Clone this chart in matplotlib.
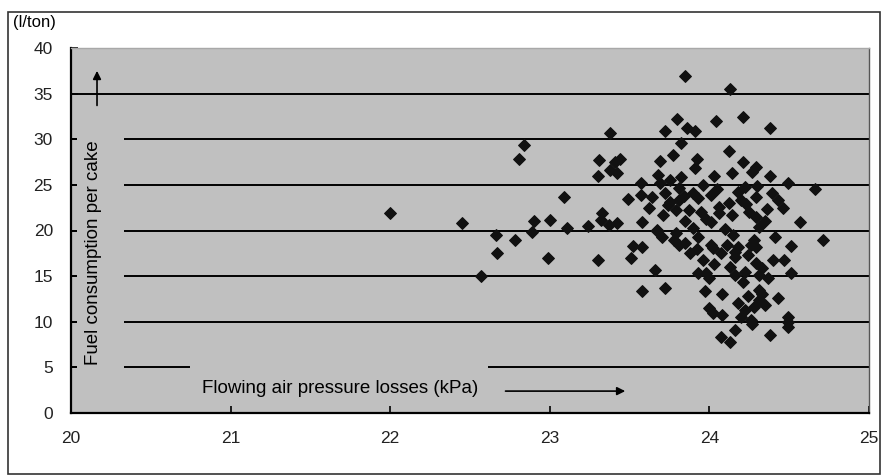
import matplotlib
matplotlib.use("Agg")
import matplotlib.pyplot as plt
from matplotlib.patches import Rectangle

# ---- data ----
pressure_kpa = [
    22.00, 22.45, 22.57, 22.66, 22.67, 22.78, 22.84, 22.81, 23.09, 22.90,
    22.89, 23.00, 23.11, 23.24, 23.38, 23.31, 23.41, 23.44, 23.38, 23.42,
    23.30, 23.49, 23.57, 23.57, 23.33, 23.32, 23.37, 23.42, 23.58, 22.99,
    23.30, 23.51, 23.52, 23.58, 23.58, 23.85, 24.13, 23.80, 24.04, 24.21,
    24.38, 23.72, 23.86, 23.91, 23.82, 23.77, 24.12, 23.69, 23.92, 23.91,
    24.21, 24.29, 24.27, 24.14, 23.68, 23.82, 24.03, 24.38, 24.49, 24.66,
    23.69, 23.81, 23.96, 24.22, 24.30, 23.64, 23.72, 23.75, 23.81, 23.90,
    23.93, 24.01, 24.06, 24.18, 24.20, 24.29, 24.39, 24.43, 24.46, 23.71,
    23.79, 23.87, 24.57, 24.71, 24.51, 24.41, 24.15, 24.01, 24.06, 24.14,
    24.29, 24.31, 23.67, 23.70, 23.79, 23.90, 23.93, 23.81, 24.01, 24.11,
    24.16, 24.28, 24.29, 23.66, 23.72, 23.67, 23.78, 23.85, 23.96, 23.93,
    23.98, 24.00, 24.02, 24.07, 24.16, 24.18, 24.16, 24.21, 24.22, 24.26,
    24.29, 24.33, 24.37, 24.40, 24.47, 24.51, 23.97, 24.08, 24.00, 24.02,
    24.08, 24.18, 24.22, 24.26, 24.28, 24.31, 24.31, 24.35, 24.43, 24.49,
    24.49, 24.16, 24.38, 24.07, 24.13, 24.31, 23.75, 23.85, 24.23, 24.25,
    24.35, 24.12, 23.62, 23.95, 24.05, 24.33, 24.24, 24.20, 24.27, 24.49,
    23.88, 24.13, 23.74, 23.84, 23.98, 24.10, 24.24, 24.36, 23.92, 24.03,
]
fuel_l_per_ton = [
    21.9, 20.8, 15.0, 19.5, 17.5, 19.0, 29.4, 27.8, 23.7, 21.0,
    19.8, 21.2, 20.3, 20.5, 30.7, 27.7, 27.5, 27.8, 26.6, 26.3,
    26.0, 23.5, 25.2, 23.9, 21.9, 21.2, 20.6, 20.8, 20.9, 17.0,
    16.8, 17.0, 18.3, 18.2, 13.4, 36.9, 35.5, 32.2, 32.0, 32.4,
    31.2, 30.9, 31.2, 30.9, 29.6, 28.3, 28.7, 27.6, 27.8, 26.8,
    27.5, 27.0, 26.4, 26.3, 26.1, 25.9, 26.0, 26.0, 25.2, 24.5,
    25.2, 24.7, 25.0, 24.8, 24.9, 23.7, 24.1, 23.1, 23.3, 24.1,
    23.6, 23.9, 22.6, 24.2, 23.3, 23.7, 24.1, 23.3, 22.5, 21.7,
    22.2, 22.3, 20.9, 19.0, 18.3, 19.3, 19.5, 20.9, 21.9, 21.7,
    21.5, 20.4, 20.1, 19.3, 19.7, 20.3, 19.3, 18.4, 18.4, 18.4,
    17.6, 19.0, 18.2, 15.7, 13.7, 19.9, 19.0, 18.6, 16.8, 15.3,
    15.3, 14.8, 18.1, 17.5, 17.1, 18.2, 15.1, 14.4, 15.5, 18.4,
    16.4, 15.9, 14.8, 16.8, 16.8, 15.3, 13.4, 13.0, 11.5, 11.0,
    10.7, 12.1, 11.3, 10.2, 11.6, 12.4, 13.5, 11.8, 12.6, 10.5,
    9.4, 9.1, 8.5, 8.3, 7.8, 15.1, 25.5, 21.0, 22.9, 22.0,
    21.0, 23.0, 22.5, 22.0, 24.5, 13.0, 12.8, 10.5, 9.8, 10.0,
    17.5, 16.0, 22.8, 23.8, 21.3, 20.2, 17.3, 22.4, 18.0, 16.3,
]
x_ticks = [20, 21, 22, 23, 24, 25]
y_ticks = [0, 5, 10, 15, 20, 25, 30, 35, 40]
y_unit = "(l/ton)"
y_label = "Fuel consumption per cake"
x_label = "Flowing air pressure losses (kPa)"

plt.rcParams['font.family'] = ['Liberation Sans', 'DejaVu Sans']

fig = plt.figure(figsize=(8.88, 4.75), dpi=100)
fig.patch.set_facecolor('white')
ax = fig.add_axes([71/888, 1-413/475, (869-71)/888, (413-48)/475])
ax.set_facecolor('#c0c0c0')

ax.set_xlim(20, 25)
ax.set_ylim(0, 40)
ax.set_xticks(x_ticks)
ax.set_yticks(y_ticks)
ax.set_axisbelow(True)
ax.grid(axis='y', color='black', lw=1.4)
ax.grid(axis='x', visible=False)

ax.tick_params(direction='in', length=5, width=1.2, colors='black',
               labelsize=12.5)
ax.tick_params(axis='x', pad=13)
ax.tick_params(axis='y', pad=13)
for lab in ax.get_yticklabels() + ax.get_xticklabels():
    lab.set_color('#222222')

for s in ['left', 'bottom']:
    ax.spines[s].set_color('black')
    ax.spines[s].set_linewidth(1.6)
ax.spines['right'].set_color('#555555')
ax.spines['right'].set_linewidth(1.0)
ax.spines['top'].set_color('#a8a8a8')
ax.spines['top'].set_linewidth(1.0)

# gray boxes behind the in-plot labels (hide grid lines there)
ax.add_patch(Rectangle((0.008, 0.02), 0.058, 0.78, transform=ax.transAxes,
                       facecolor='#c0c0c0', edgecolor='none', zorder=0.7))
ax.add_patch(Rectangle((0.149, 0.03), 0.374, 0.14, transform=ax.transAxes,
                       facecolor='#c0c0c0', edgecolor='none', zorder=0.7))

ax.scatter(pressure_kpa, fuel_l_per_ton, marker='D', s=36, color='#111111',
           edgecolors='#111111', linewidths=0.8, zorder=3)

ax.text(0.0285, 0.44, y_label, transform=ax.transAxes, rotation=90,
        ha='center', va='center', fontsize=13.5, color='black', zorder=4)
ax.text(0.337, 0.068, x_label, transform=ax.transAxes,
        ha='center', va='center', fontsize=13.5, color='black', zorder=4)

ax.annotate('', xy=(0.0326, 0.945), xytext=(0.0326, 0.835),
            xycoords='axes fraction',
            arrowprops=dict(arrowstyle='-|>', color='black', lw=1.2,
                            mutation_scale=12), zorder=4)
ax.annotate('', xy=(0.698, 0.060), xytext=(0.541, 0.060),
            xycoords='axes fraction',
            arrowprops=dict(arrowstyle='-|>', color='black', lw=1.2,
                            mutation_scale=12), zorder=4)

fig.text(13/888, 1-22/475, y_unit, ha='left', va='center', fontsize=12,
         color='black')

# outer frame
fig.add_artist(Rectangle((8/888, 1-474/475), (880-8)/888, (474-12)/475,
                         transform=fig.transFigure, facecolor='none',
                         edgecolor='#333333', lw=1.2))

fig.savefig('out.png', dpi=100)
